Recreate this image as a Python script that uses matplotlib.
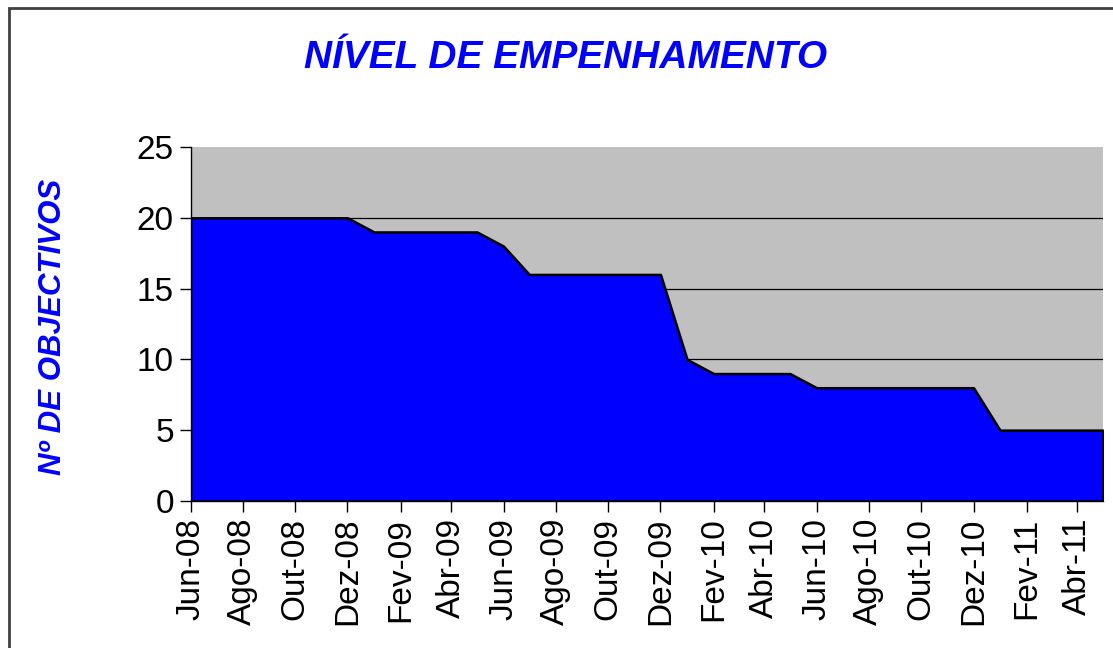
import numpy as np
import pandas as pd
import matplotlib
matplotlib.use('Agg')
import matplotlib.pyplot as plt
from matplotlib.patches import Rectangle

plt.rcParams['font.family'] = ['Liberation Sans', 'DejaVu Sans']

# meses (1º dia de cada mês) de Jun-08 a Mai-11
meses = pd.date_range('2008-06-01', '2011-05-01', freq='MS')

# nº de objectivos em cada mês
objectivos = [20, 20, 20, 20, 20, 20, 20,
              19, 19, 19, 19, 19,
              18,
              16, 16, 16, 16, 16, 16,
              10,
              9, 9, 9, 9,
              8, 8, 8, 8, 8, 8, 8,
              5, 5, 5, 5, 5]

rotulos = ['Jun-08', 'Ago-08', 'Out-08', 'Dez-08', 'Fev-09', 'Abr-09',
           'Jun-09', 'Ago-09', 'Out-09', 'Dez-09', 'Fev-10', 'Abr-10',
           'Jun-10', 'Ago-10', 'Out-10', 'Dez-10', 'Fev-11', 'Abr-11']

fig = plt.figure(figsize=(11.13, 6.48), dpi=100)
ax = fig.add_axes([190.5 / 1113, 1 - 501 / 648, (1103 - 190.5) / 1113, (501 - 147) / 648])

ax.set_facecolor('#C0C0C0')
ax.fill_between(meses, objectivos, 0, facecolor='#0000FF', edgecolor='black',
                linewidth=1.8, zorder=3)

ax.set_ylim(0, 25)
ax.set_xlim(meses[0], meses[-1])
ax.set_yticks([0, 5, 10, 15, 20, 25])
for y in [5, 10, 15, 20]:
    ax.axhline(y, color='black', linewidth=0.9, zorder=1)

ax.set_xticks(meses[::2])
ax.set_xticklabels(rotulos, rotation=90)
ax.tick_params(axis='both', labelsize=24, length=8, width=1, direction='out',
               colors='black', pad=4)

for s in ['top', 'right']:
    ax.spines[s].set_visible(False)
for s in ['left', 'bottom']:
    ax.spines[s].set_linewidth(1)
    ax.spines[s].set_zorder(4)

fig.text(0.508, 0.91, 'NÍVEL DE EMPENHAMENTO', color='#0000FF', fontsize=28,
         fontweight='bold', fontstyle='italic', ha='center', va='center')
fig.text(0.048, 0.495, 'Nº DE OBJECTIVOS', color='#0000FF', fontsize=22.5,
         fontweight='bold', fontstyle='italic', rotation=90,
         ha='center', va='center')

# moldura exterior
fig.patches.append(Rectangle((8.5 / 1113, -0.1), 1.2, 1 - 8.5 / 648 + 0.1,
                             transform=fig.transFigure, fill=False,
                             edgecolor='#404040', linewidth=2, clip_on=False))

fig.savefig('out.png', dpi=100)
